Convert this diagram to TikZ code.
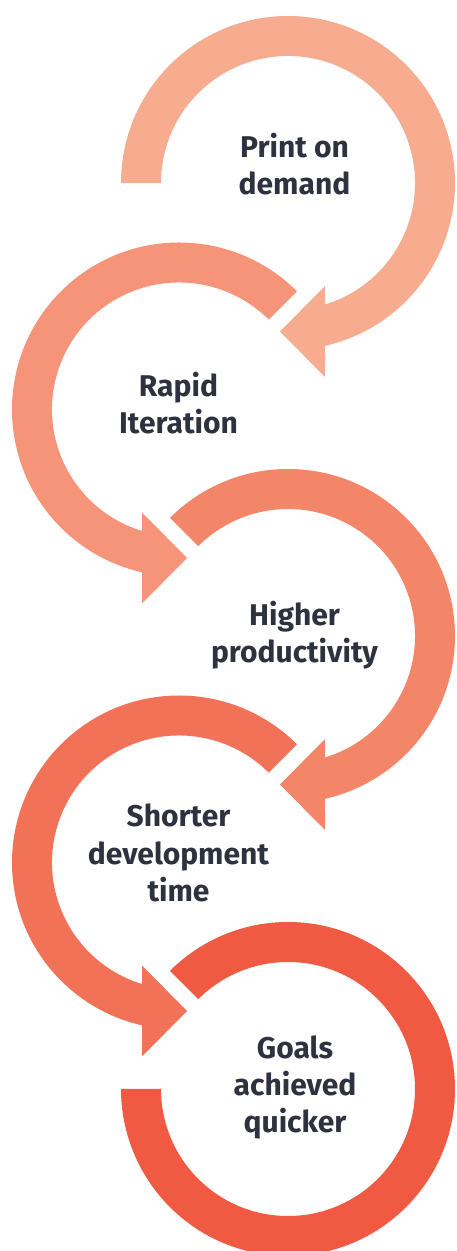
\documentclass[tikz,border=0pt]{standalone}
\usepackage{fontspec}
\setmainfont{Fira Sans}
\definecolor{cA}{RGB}{247,171,143}
\definecolor{cB}{RGB}{245,148,121}
\definecolor{cC}{RGB}{243,133,104}
\definecolor{cD}{RGB}{242,114,87}
\definecolor{cE}{RGB}{240,90,66}
\definecolor{txt}{RGB}{45,50,62}
\tikzset{
  lbl/.style={anchor=base, inner sep=0pt, text=txt, font=\fontsize{30}{37}\selectfont\bfseries},
}
\begin{document}
\begin{tikzpicture}[x=1pt,y=1pt]
\useasboundingbox (0,0) rectangle (456,1251);
\clip (0,0) rectangle (456,1251);
% ring 1
\begin{scope}[shift={(288,1068)}]
\fill[cA] (180:167) arc[start angle=180, end angle=-77.2, radius=167] -- (37,-194) -- (-8,-148.5) -- (37,-103) -- (-73.06:127) arc[start angle=-73.06, end angle=180, radius=127] -- cycle;
\end{scope}
% ring 2
\begin{scope}[shift={(179,841.5)}]
\fill[cB] (45:167) arc[start angle=45, end angle=257.2, radius=167] -- (-37,-194) -- (8,-148.5) -- (-37,-103) -- (253.06:127) arc[start angle=253.06, end angle=45, radius=127] -- cycle;
\end{scope}
% ring 3
\begin{scope}[shift={(288,615)}]
\fill[cC] (135:167) arc[start angle=135, end angle=-77.2, radius=167] -- (37,-194) -- (-8,-148.5) -- (37,-103) -- (-73.06:127) arc[start angle=-73.06, end angle=135, radius=127] -- cycle;
\end{scope}
% ring 4
\begin{scope}[shift={(179,388.5)}]
\fill[cD] (45:167) arc[start angle=45, end angle=257.2, radius=167] -- (-37,-194) -- (8,-148.5) -- (-37,-103) -- (253.06:127) arc[start angle=253.06, end angle=45, radius=127] -- cycle;
\end{scope}
% ring 5
\begin{scope}[shift={(288,162)}]
\fill[cE] (135:167) arc[start angle=135, end angle=-180, radius=167] -- (-180:127) arc[start angle=-180, end angle=135, radius=127] -- cycle;
\end{scope}
% labels
\node[lbl] (t1a) at (294.5,1093) {Print on};
\node[lbl] (t1b) at (294.5,1056) {demand};
\node[lbl] (t2a) at (178.5,854) {Rapid};
\node[lbl] (t2b) at (178.5,817) {Iteration};
\node[lbl] (t3a) at (294.5,625) {Higher};
\node[lbl] (t3b) at (294.5,588) {productivity};
\node[lbl] (t4a) at (178.5,424) {Shorter};
\node[lbl] (t4b) at (178.5,386) {development};
\node[lbl] (t4c) at (178.5,349) {time};
\node[lbl] (t5a) at (295,192) {Goals};
\node[lbl] (t5b) at (295,155) {achieved};
\node[lbl] (t5c) at (295,118) {quicker};
\end{tikzpicture}
\end{document}
